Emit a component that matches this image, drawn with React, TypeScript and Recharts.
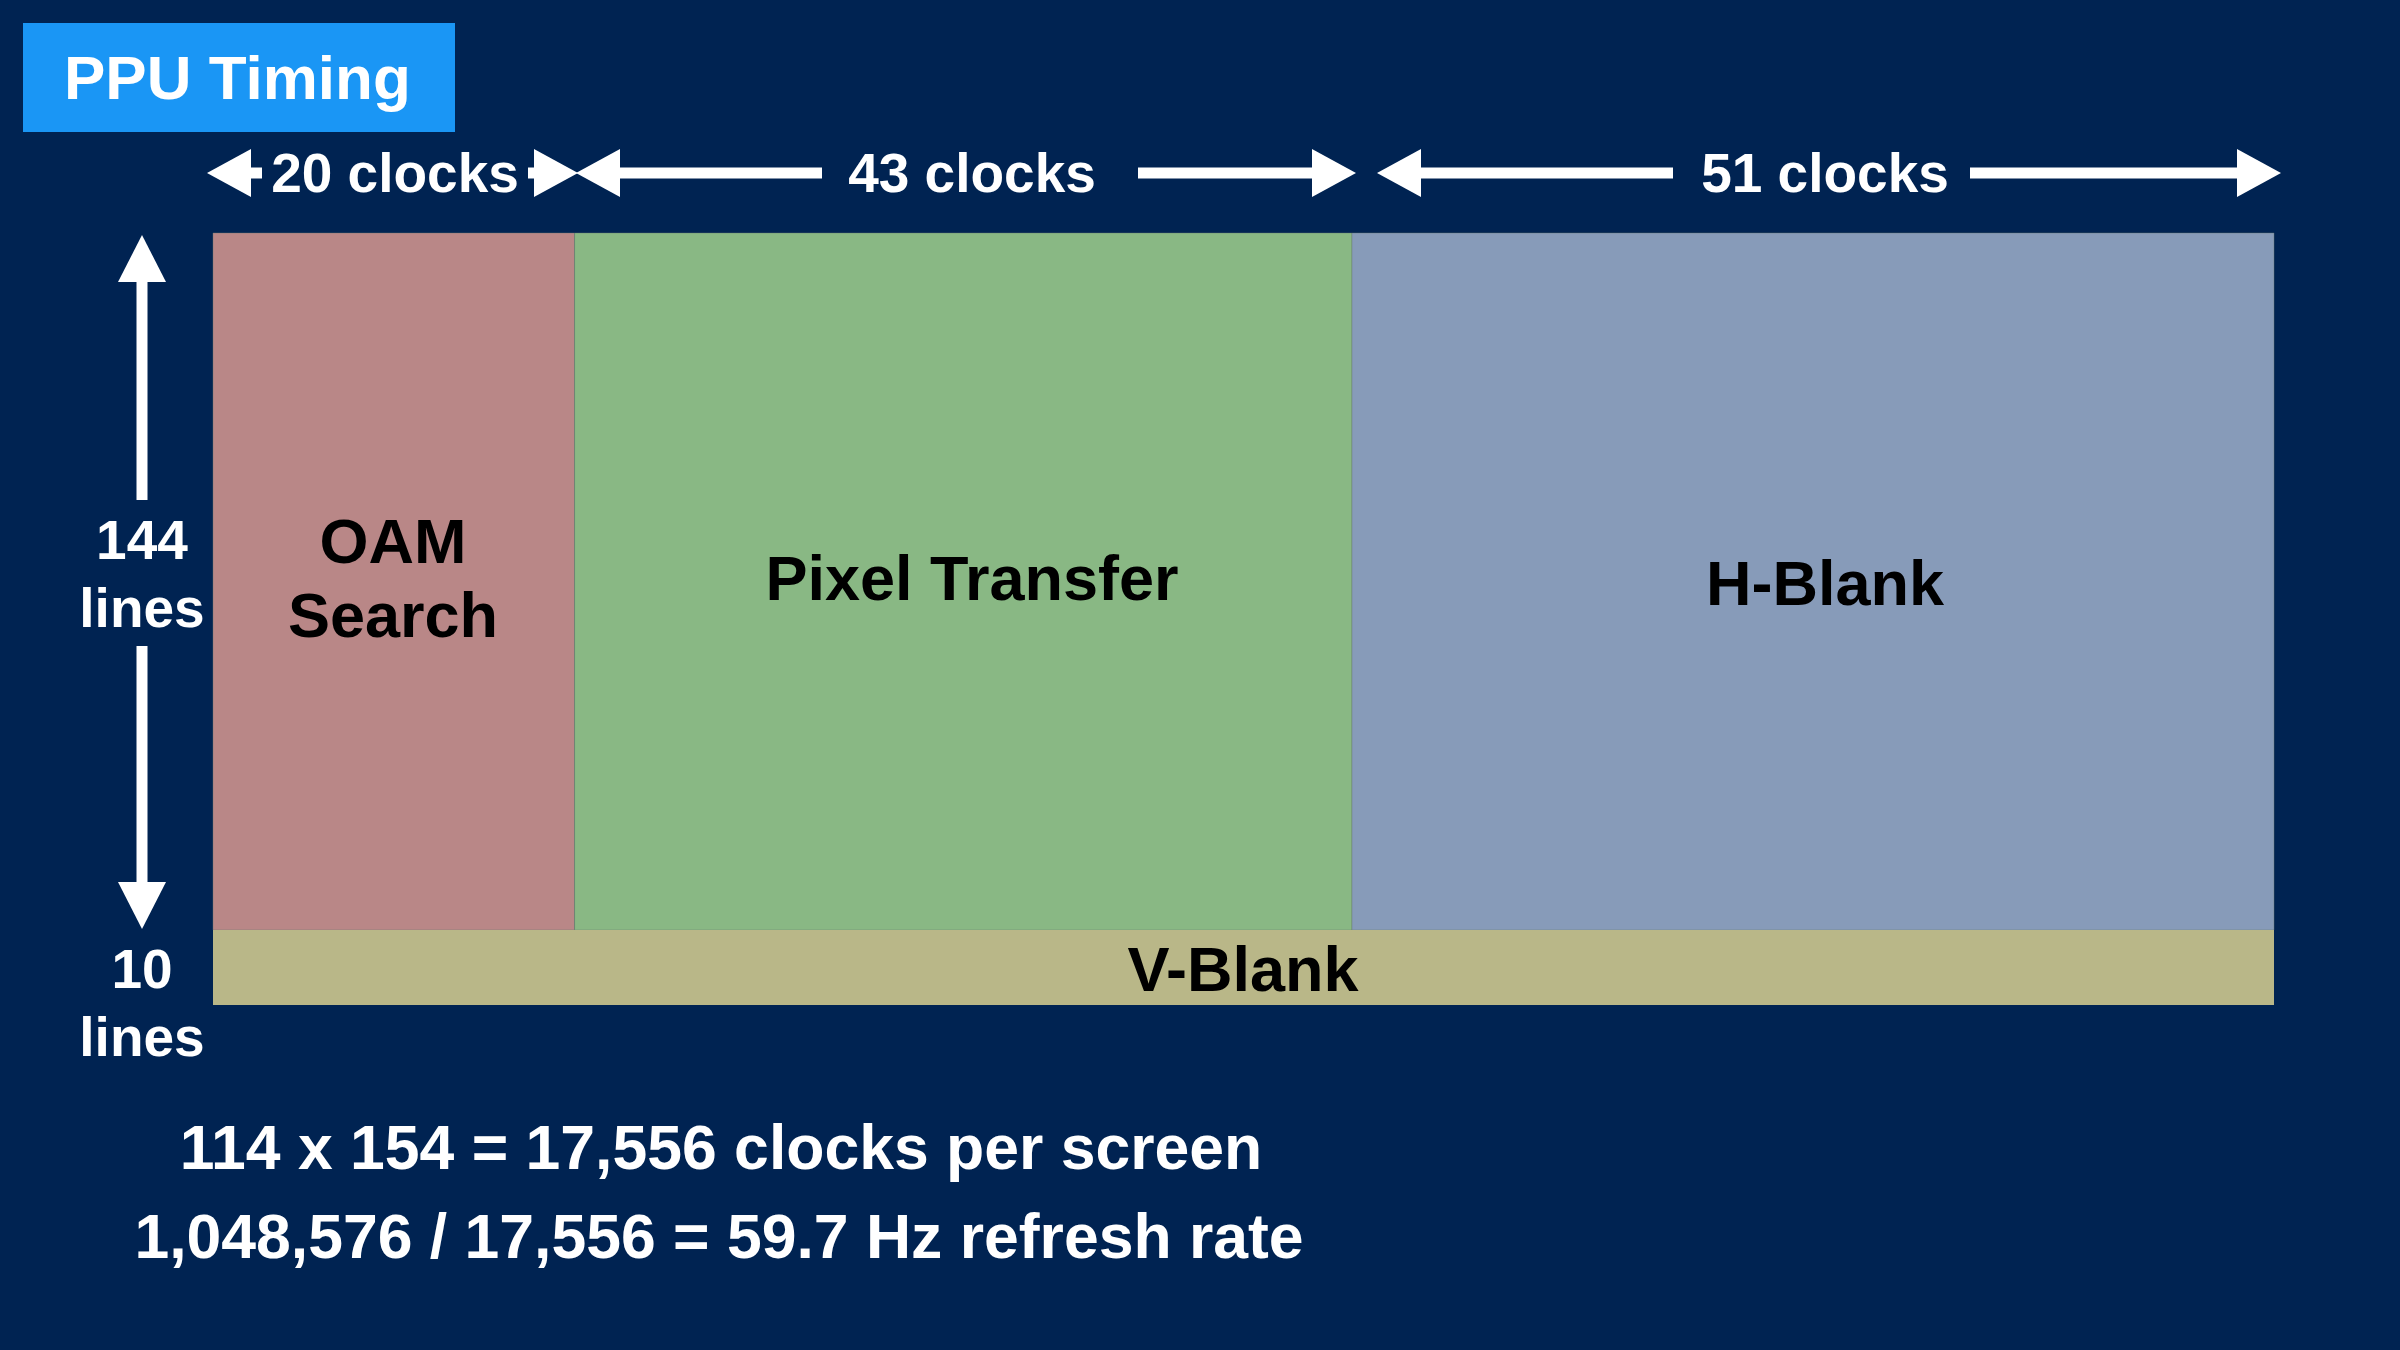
import React from 'react';
import { ScatterChart, XAxis, YAxis, ReferenceArea, Scatter } from 'recharts';

const phaseNames = ['OAM\nSearch', 'Pixel Transfer', 'H-Blank'];
const phaseClocks = [20, 43, 51];
const phaseColors = ['#b98787', '#89b884', '#879bb9'];
const visibleLines = 144;
const vblankBand = 15.5; // visual thickness of the 10-line band
const totalClocks = 114;

const FONT = '"Liberation Sans", Arial, Helvetica, sans-serif';

const starts = phaseClocks.map((_, i) => phaseClocks.slice(0, i).reduce((a, b) => a + b, 0));
const cornerPoints = [{ x: 0, y: 0 }, { x: totalClocks, y: visibleLines + vblankBand }];

function HArrow({ x1, x2, y, gaps }: { x1: number; x2: number; y: number; gaps: [number, number] }) {
  const h = 24, w = 44;
  return (
    <g fill="#fff" stroke="#fff">
      <polygon points={`${x1},${y} ${x1 + w},${y - h} ${x1 + w},${y + h}`} stroke="none" />
      <polygon points={`${x2},${y} ${x2 - w},${y - h} ${x2 - w},${y + h}`} stroke="none" />
      <line x1={x1 + w} x2={gaps[0]} y1={y} y2={y} strokeWidth={11} />
      <line x1={gaps[1]} x2={x2 - w} y1={y} y2={y} strokeWidth={11} />
    </g>
  );
}

export default function App() {
  const t = { fill: '#fff', fontFamily: FONT, fontWeight: 700, fontSize: 55, textAnchor: 'middle' as const };
  return (
    <div style={{ position: 'absolute', left: 0, top: 0, width: 2400, height: 1350, background: '#002352' }}>
      <ScatterChart width={2400} height={1350} margin={{ left: 213, right: 126, top: 233, bottom: 345 }}>
        <XAxis type="number" dataKey="x" domain={[0, totalClocks]} hide />
        <YAxis type="number" dataKey="y" domain={[0, visibleLines + vblankBand]} reversed hide />
        {phaseNames.map((n, i) => (
          <ReferenceArea key={n} x1={starts[i]} x2={starts[i] + phaseClocks[i]} y1={0} y2={visibleLines}
            fill={phaseColors[i]} fillOpacity={1} stroke="#6a7a70" strokeOpacity={0.4} ifOverflow="visible" />
        ))}
        <ReferenceArea x1={0} x2={totalClocks} y1={visibleLines} y2={visibleLines + vblankBand}
          fill="#b9b788" fillOpacity={1} ifOverflow="visible" />
        <Scatter data={cornerPoints} isAnimationActive={false} shape={() => <g />} />
      </ScatterChart>
      <svg width={2400} height={1350} style={{ position: 'absolute', left: 0, top: 0 }}>
        <rect x={23} y={23} width={432} height={109} fill="#1a96f5" />
        <text x={64} y={99} fill="#fff" fontFamily={FONT} fontWeight={700} fontSize={62}>PPU Timing</text>

        <HArrow x1={207} x2={578} y={173} gaps={[262, 528]} />
        <text {...t} x={395} y={192}>20 clocks</text>
        <HArrow x1={576} x2={1356} y={173} gaps={[822, 1138]} />
        <text {...t} x={972} y={192}>43 clocks</text>
        <HArrow x1={1377} x2={2281} y={173} gaps={[1673, 1970]} />
        <text {...t} x={1825} y={192}>51 clocks</text>

        <polygon points="142,235 118,282 166,282" fill="#fff" />
        <polygon points="142,929 118,882 166,882" fill="#fff" />
        <line x1={142} x2={142} y1={280} y2={500} stroke="#fff" strokeWidth={11} />
        <line x1={142} x2={142} y1={646} y2={884} stroke="#fff" strokeWidth={11} />
        <text {...t} x={142} y={559}>144</text>
        <text {...t} x={142} y={627}>lines</text>
        <text {...t} x={142} y={988}>10</text>
        <text {...t} x={142} y={1056}>lines</text>

        <g fill="#000" fontFamily={FONT} fontWeight={700} fontSize={63} textAnchor="middle">
          <text x={393} y={563}>OAM</text>
          <text x={393} y={637}>Search</text>
          <text x={972} y={600}>Pixel Transfer</text>
          <text x={1825} y={605}>H-Blank</text>
          <text x={1243} y={991}>V-Blank</text>
        </g>

        <text {...t} fontSize={62.5} x={721} y={1169}>114 x 154 = 17,556 clocks per screen</text>
        <text {...t} fontSize={62.5} x={719} y={1258}>1,048,576 / 17,556 = 59.7 Hz refresh rate</text>
      </svg>
    </div>
  );
}
